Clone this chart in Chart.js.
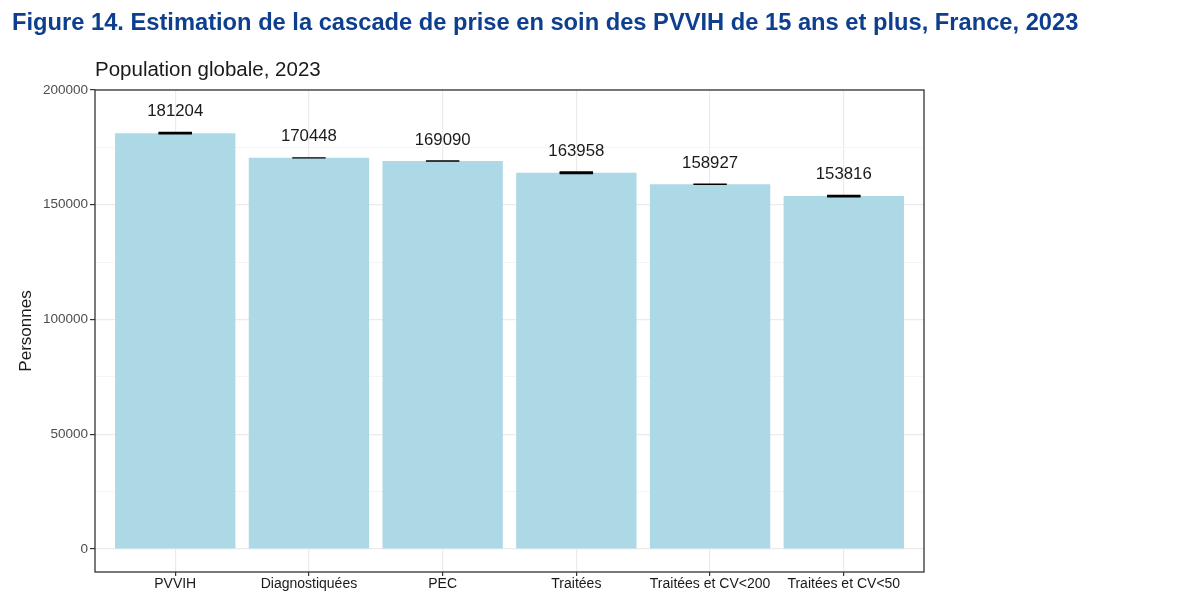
<!DOCTYPE html>
<html>
<head>
<meta charset="utf-8">
<script src="https://cdn.jsdelivr.net/npm/chart.js@4.4.1/dist/chart.umd.min.js"></script>
<style>
  html, body { margin: 0; padding: 0; background: #ffffff; }
  #wrap { position: relative; width: 1200px; height: 614px; overflow: hidden; }
  #title { position: absolute; left: 12px; top: 11px; line-height: 1; font-family: "Liberation Sans", Arial, sans-serif; font-weight: bold; font-size: 23.7px; color: #0e3f8e; white-space: nowrap; }
  #subtitle { position: absolute; left: 95px; top: 59px; line-height: 1; font-family: "Liberation Sans", Arial, sans-serif; font-size: 20.5px; color: #1a1a1a; white-space: nowrap; }
  canvas { position: absolute; left: 0; top: 0; }
</style>
</head>
<body>
<div id="wrap">
  <canvas id="c" width="1200" height="614"></canvas>
  <div id="title">Figure 14. Estimation de la cascade de prise en soin des PVVIH de 15 ans et plus, France, 2023</div>
  <div id="subtitle">Population globale, 2023</div>
</div>
<script>
const categories = ["PVVIH", "Diagnostiquées", "PEC", "Traitées", "Traitées et CV<200", "Traitées et CV<50"];
const values = [181204, 170448, 169090, 163958, 158927, 153816];
const errLow = [180900, 170448, 169090, 163650, 158927, 153500];
const errHigh = [181500, 170448, 169090, 164250, 158927, 154100];
const yTicks = [0, 25000, 50000, 75000, 100000, 125000, 150000, 175000, 200000];
const yLabelTicks = [0, 50000, 100000, 150000, 200000];

const barData = values.map((v, i) => ({ x: i + 1, y: v }));

const overlayPlugin = {
  id: 'overlay',
  afterDatasetsDraw(chart) {
    const ctx = chart.ctx;
    const xs = chart.scales.x, ys = chart.scales.y;
    ctx.save();
    // error bars
    ctx.strokeStyle = '#000000';
    ctx.lineWidth = 1.4;
    for (let i = 0; i < values.length; i++) {
      const xl = xs.getPixelForValue(i + 1 - 0.125);
      const xr = xs.getPixelForValue(i + 1 + 0.125);
      const xc = xs.getPixelForValue(i + 1);
      const yl = ys.getPixelForValue(errLow[i]);
      const yh = ys.getPixelForValue(errHigh[i]);
      ctx.beginPath();
      ctx.moveTo(xl, yl); ctx.lineTo(xr, yl);
      ctx.moveTo(xl, yh); ctx.lineTo(xr, yh);
      ctx.moveTo(xc, yl); ctx.lineTo(xc, yh);
      ctx.stroke();
      if (yl - yh > 0) {
        ctx.fillStyle = '#000000';
        ctx.fillRect(xl, yh, xr - xl, yl - yh);
      }
    }
    // value labels
    ctx.fillStyle = '#1a1a1a';
    ctx.font = '16.8px "Liberation Sans", Arial, sans-serif';
    ctx.textAlign = 'center';
    ctx.textBaseline = 'middle';
    for (let i = 0; i < values.length; i++) {
      const xc = xs.getPixelForValue(i + 1);
      const y = ys.getPixelForValue(errHigh[i]) - 21;
      ctx.fillText(String(values[i]), xc, y);
    }
    // panel border
    const a = chart.chartArea;
    ctx.strokeStyle = '#333333';
    ctx.lineWidth = 1.3;
    ctx.strokeRect(a.left, a.top, a.right - a.left, a.bottom - a.top);
    ctx.restore();
  }
};

new Chart(document.getElementById('c'), {
  type: 'bar',
  data: {
    datasets: [{
      data: barData,
      backgroundColor: '#add8e6',
      borderWidth: 0,
      categoryPercentage: 0.9,
      barPercentage: 1.0
    }]
  },
  options: {
    responsive: false,
    devicePixelRatio: 1,
    animation: false,
    layout: { padding: { top: 90, right: 276, bottom: 10, left: 10 } },
    plugins: { legend: { display: false }, tooltip: { enabled: false }, title: { display: false } },
    scales: {
      x: {
        type: 'linear',
        min: 0.4,
        max: 6.6,
        offset: false,
        afterBuildTicks: (axis) => { axis.ticks = categories.map((c, i) => ({ value: i + 1 })); },
        afterFit: (axis) => { axis.height = 32; },
        border: { display: false },
        grid: { color: '#ebebeb', lineWidth: 1.2, offset: false, tickLength: 4, tickColor: '#333333', drawOnChartArea: true },
        ticks: {
          autoSkip: false,
          maxRotation: 0,
          padding: 0,
          color: '#1a1a1a',
          font: { family: '"Liberation Sans", Arial, sans-serif', size: 14 },
          callback: (v) => { const i = Math.round(v) - 1; return categories[i] !== undefined ? categories[i] : ''; }
        }
      },
      y: {
        type: 'linear',
        min: -10000,
        max: 200000,
        afterBuildTicks: (axis) => { axis.ticks = yTicks.map(v => ({ value: v })); },
        afterFit: (axis) => { axis.width = 85; },
        border: { display: false },
        grid: {
          color: (c) => yLabelTicks.includes(c.tick && c.tick.value) ? '#ebebeb' : '#f2f2f2',
          lineWidth: (c) => yLabelTicks.includes(c.tick && c.tick.value) ? 1.2 : 0.8,
          tickLength: 5,
          tickColor: (c) => yLabelTicks.includes(c.tick && c.tick.value) ? '#333333' : 'rgba(0,0,0,0)'
        },
        ticks: {
          padding: 2,
          color: '#4d4d4d',
          font: { family: '"Liberation Sans", Arial, sans-serif', size: 13.5 },
          callback: (v) => yLabelTicks.includes(v) ? String(v) : ''
        },
        title: {
          display: true,
          text: 'Personnes',
          color: '#1a1a1a',
          font: { family: '"Liberation Sans", Arial, sans-serif', size: 17 },
          padding: { top: 6, bottom: 0 }
        }
      }
    }
  },
  plugins: [overlayPlugin]
});
</script>
</body>
</html>
